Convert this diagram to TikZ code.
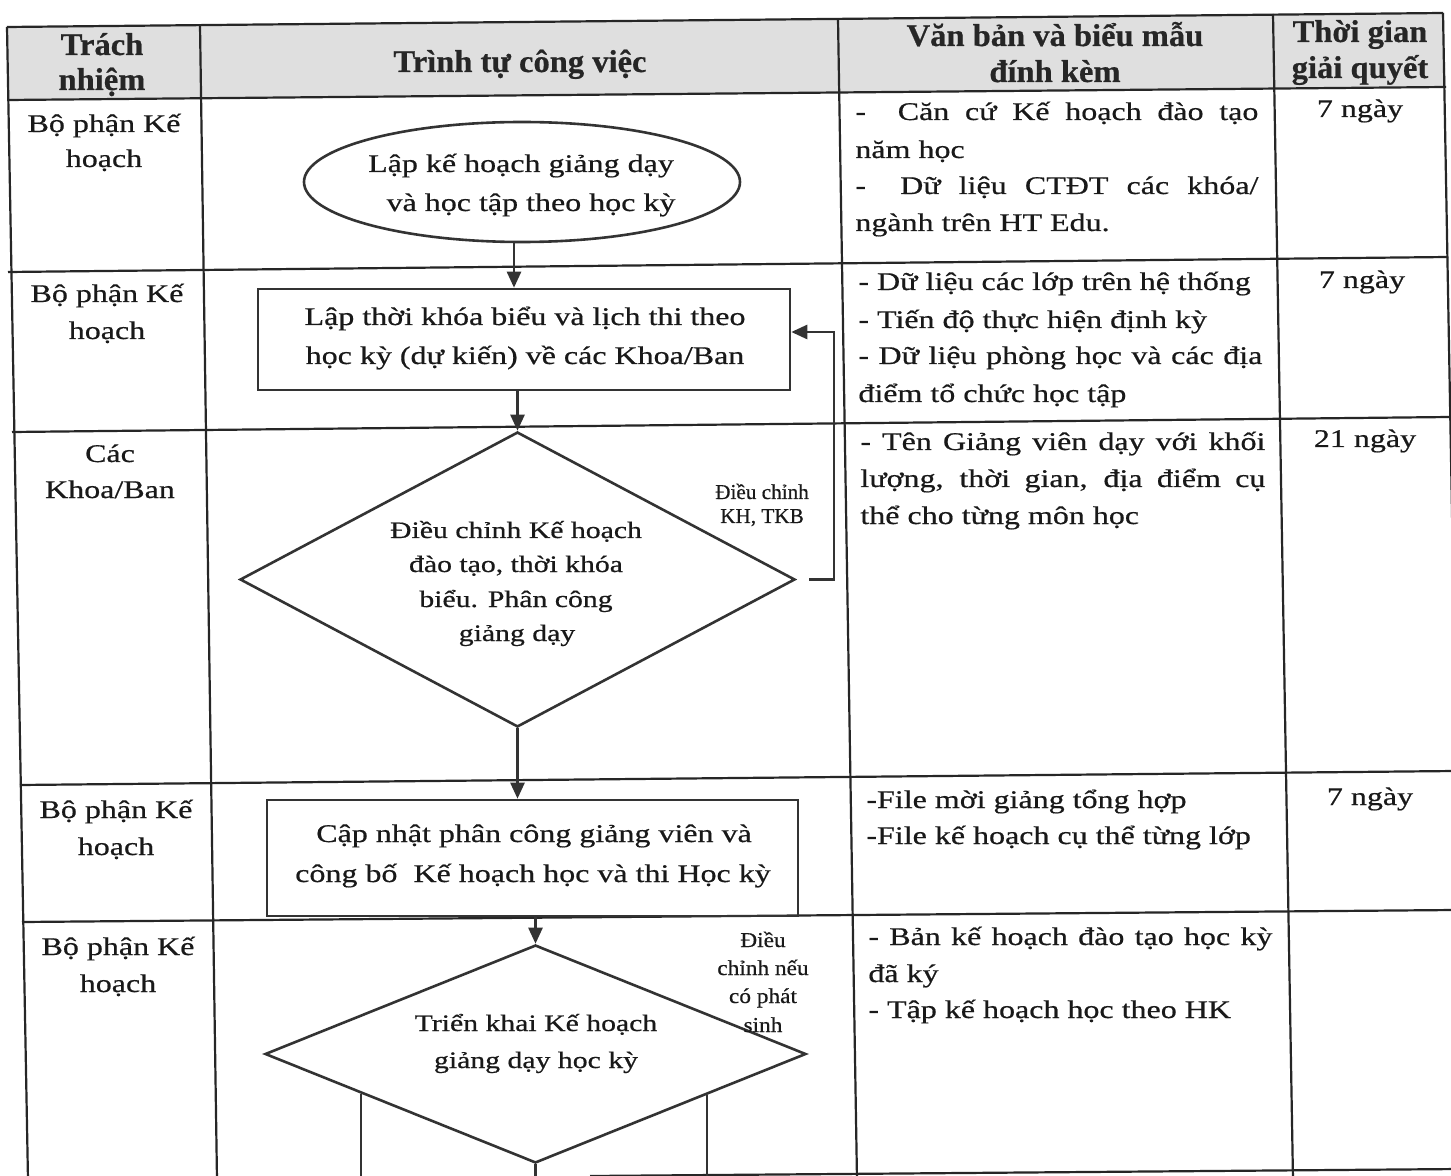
\documentclass[tikz,border=0pt]{standalone}
\usepackage{fontspec}
\setmainfont{Liberation Serif}[FakeStretch=1.26,FakeBold=0.6]
\newfontfamily\hdrfont{Liberation Serif}[FakeStretch=1.03,FakeBold=0.6]
\newfontfamily\lblfont{Liberation Serif}[FakeBold=0.5]
\newfontfamily\lblfontb{Liberation Serif}[FakeStretch=1.1,FakeBold=0.5]
\usetikzlibrary{shapes.geometric,arrows.meta,calc}
\tikzset{
  tbl/.style={line width=1.1pt, draw=black!85},
  shp/.style={draw=black!80, line width=1.3pt, inner sep=0pt},
  arr/.style={draw=black!80, line width=1.3pt, -{Triangle[length=8pt,width=7pt]}},
  hdr/.style={inner sep=0pt, font=\hdrfont\bfseries\fontsize{15.8}{18}\selectfont, text=black!85},
  body/.style={inner sep=0pt, font=\fontsize{12.7}{15}\selectfont, text=black!90},
  dtxt/.style={inner sep=0pt, font=\fontsize{11.8}{14}\selectfont, text=black!90},
  lbl/.style={inner sep=0pt, font=\lblfont\fontsize{10.6}{13}\selectfont, text=black!90},
  lblb/.style={inner sep=0pt, font=\lblfontb\fontsize{10.6}{13}\selectfont, text=black!90}
}
\begin{document}
\begin{tikzpicture}[x=0.5pt,y=-0.5pt]
\useasboundingbox[fill=white] (0,0) rectangle (1451,1176);
% header background
\fill[gray!25] (7,27) -- (1443,13) -- (1446,87) -- (8,100) -- cycle;
% table lines
\draw[tbl] (7,27) -- (1443,13);
\draw[tbl] (8,100) -- (1446,87);
\draw[tbl] (8,272) -- (1448,257);
\draw[tbl] (12,432) -- (1450,417);
\draw[tbl] (20,785) -- (1455,771);
\draw[tbl] (22,922) -- (1455,910);
\draw[tbl] (590,1176) -- (1460,1169);
\draw[tbl] (7,27) -- (28,1180);
\draw[tbl] (200,25) -- (217,1180);
\draw[tbl] (838,19) -- (857,1180);
\draw[tbl] (1273,14) -- (1293,1180);
\draw[tbl] (1443,13) -- (1464,1180);
% header text
\node[hdr, anchor=base] (h1a) at (102,55) {Trách};
\node[hdr, anchor=base] (h1b) at (102,90) {nhiệm};
\node[hdr, anchor=base] (h2) at (520,72) {Trình tự công việc};
\node[hdr, anchor=base] (h3a) at (1055,46) {Văn bản và biểu mẫu};
\node[hdr, anchor=base] (h3b) at (1055,82) {đính kèm};
\node[hdr, anchor=base] (h4a) at (1360,42) {Thời gian};
\node[hdr, anchor=base] (h4b) at (1360,78) {giải quyết};
% column 1
\node[body, anchor=base] (r1a) at (104,132) {Bộ phận Kế};
\node[body, anchor=base] (r1b) at (104,167) {hoạch};
\node[body, anchor=base] (r2a) at (107,302) {Bộ phận Kế};
\node[body, anchor=base] (r2b) at (107,339) {hoạch};
\node[body, anchor=base] (r3a) at (110,462) {Các};
\node[body, anchor=base] (r3b) at (110,498) {Khoa/Ban};
\node[body, anchor=base] (r4a) at (116,818) {Bộ phận Kế};
\node[body, anchor=base] (r4b) at (116,855) {hoạch};
\node[body, anchor=base] (r5a) at (118,955) {Bộ phận Kế};
\node[body, anchor=base] (r5b) at (118,992) {hoạch};
% column 3
\node[body, anchor=base west] (v1a) at (855,120) {\makebox[201.5pt][s]{-\hspace{8pt} Căn cứ Kế hoạch đào tạo}};
\node[body, anchor=base west] (v1b) at (855,158) {năm học};
\node[body, anchor=base west] (v1c) at (855,194) {\makebox[201.5pt][s]{-\hspace{8pt} Dữ liệu CTĐT các khóa/}};
\node[body, anchor=base west] (v1d) at (855,231) {ngành trên HT Edu.};
\node[body, anchor=base west] (v2a) at (858,290) {- Dữ liệu các lớp trên hệ thống};
\node[body, anchor=base west] (v2b) at (858,328) {- Tiến độ thực hiện định kỳ};
\node[body, anchor=base west] (v2c) at (858,364) {\makebox[202pt][s]{- Dữ liệu phòng học và các địa}};
\node[body, anchor=base west] (v2d) at (858,402) {điểm tổ chức học tập};
\node[body, anchor=base west] (v3a) at (860,450) {\makebox[202.5pt][s]{- Tên Giảng viên dạy với khối}};
\node[body, anchor=base west] (v3b) at (860,487) {\makebox[202.5pt][s]{lượng, thời gian, địa điểm cụ}};
\node[body, anchor=base west] (v3c) at (860,524) {thể cho từng môn học};
\node[body, anchor=base west] (v4a) at (866,808) {-File mời giảng tổng hợp};
\node[body, anchor=base west] (v4b) at (866,844) {-File kế hoạch cụ thể từng lớp};
\node[body, anchor=base west] (v5a) at (868,945) {\makebox[202pt][s]{- Bản kế hoạch đào tạo học kỳ}};
\node[body, anchor=base west] (v5b) at (868,982) {đã ký};
\node[body, anchor=base west] (v5c) at (868,1018) {- Tập kế hoạch học theo HK};
% column 4
\node[body, anchor=base] (t1) at (1360,117) {7 ngày};
\node[body, anchor=base] (t2) at (1362,288) {7 ngày};
\node[body, anchor=base] (t3) at (1365,447) {21 ngày};
\node[body, anchor=base] (t4) at (1370,805) {7 ngày};
% flowchart shapes
\node[shp, ellipse, minimum width=218pt, minimum height=60pt] (e1) at (522,182) {};
\node[shp, rectangle, minimum width=266pt, minimum height=50.5pt] (b1) at (524,339.5) {};
\node[shp, diamond, minimum width=277.5pt, minimum height=147.5pt] (d1) at (517.5,579.5) {};
\node[shp, rectangle, minimum width=265.5pt, minimum height=58pt] (b2) at (532.5,858) {};
\node[shp, diamond, minimum width=270.5pt, minimum height=109pt] (d2) at (535.5,1054) {};
% connectors
\draw[arr] ([xshift=-4pt]e1.south) -- ([xshift=-4pt]e1.south |- b1.north);
\draw[arr] (b1.south -| d1.north) -- (d1.north);
\draw[arr] (d1.south) -- (d1.south |- b2.north);
\draw[arr] (b2.south -| d2.north) -- (d2.north);
\coordinate (fb) at (834,332);
\draw[arr] ([xshift=6.5pt]d1.east) -| (fb) -- (fb -| b1.east);
\draw[shp] (d2.south) -- ++(0,30);
\draw[shp] ($(d2.west)!0.3586!(d2.south)$) -- ++(0,120);
\draw[shp] ($(d2.east)!0.3697!(d2.south)$) -- ++(0,120);
% flowchart text
\node[body, anchor=base] (e1a) at (521,172) {Lập kế hoạch giảng dạy};
\node[body, anchor=base] (e1b) at (531,211) {và học tập theo học kỳ};
\node[body, anchor=base] (b1a) at (525,325) {Lập thời khóa biểu và lịch thi theo};
\node[body, anchor=base] (b1b) at (525,364) {học kỳ (dự kiến) về các Khoa/Ban};
\node[dtxt, anchor=base] (d1a) at (516,538) {Điều chỉnh Kế hoạch};
\node[dtxt, anchor=base] (d1b) at (516,572) {đào tạo, thời khóa};
\node[dtxt, anchor=base] (d1c) at (516,607) {biểu. Phân công};
\node[dtxt, anchor=base] (d1d) at (517,641) {giảng dạy};
\node[body, anchor=base] (b2a) at (534,842) {Cập nhật phân công giảng viên và};
\node[body, anchor=base] (b2b) at (533,882) {công bố\ \ Kế hoạch học và thi Học kỳ};
\node[dtxt, anchor=base] (d2a) at (536,1031) {Triển khai Kế hoạch};
\node[dtxt, anchor=base] (d2b) at (536,1068) {giảng dạy học kỳ};
\node[lbl, anchor=base] (l1a) at (762,499) {Điều chỉnh};
\node[lbl, anchor=base] (l1b) at (762,523) {KH, TKB};
\node[lblb, anchor=base] (l2a) at (763,947) {Điều};
\node[lblb, anchor=base] (l2b) at (763,975) {chỉnh nếu};
\node[lblb, anchor=base] (l2c) at (763,1003) {có phát};
\node[lblb, anchor=base] (l2d) at (763,1032) {sinh};
\end{tikzpicture}
\end{document}
